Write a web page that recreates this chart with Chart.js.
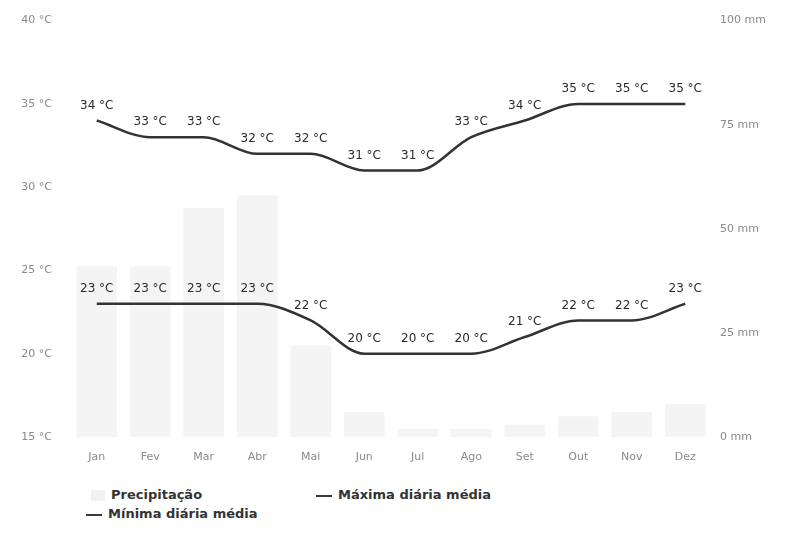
<!DOCTYPE html>
<html>
<head>
<meta charset="utf-8">
<script src="https://cdn.jsdelivr.net/npm/chart.js@4/dist/chart.umd.min.js"></script>
<style>
    body { margin: 0; background: #fff; font-family: 'DejaVu Sans', sans-serif; }
    #wrap { position: relative; width: 796px; height: 533px; overflow: hidden; }
    #box { position: absolute; left: 0; top: -4px; width: 796px; height: 482px; }
    .leg { position: absolute; font-size: 13px; font-weight: bold; color: #333; white-space: nowrap; }
    .leg .sym { display: inline-block; vertical-align: middle; margin-right: 6px; }
    .sq { width: 14px; height: 11px; background: rgba(0,0,0,0.05); }
    .ln { width: 16px; height: 2px; background: #3a3a3a; }
</style>
</head>
<body>
<div id="wrap">
    <div id="box"><canvas id="climateChart"></canvas></div>
    <div class="leg" style="left:91px; top:487px;"><span class="sym sq"></span>Precipitação</div>
    <div class="leg" style="left:316px; top:487px;"><span class="sym ln"></span>Máxima diária média</div>
    <div class="leg" style="left:86px; top:506px;"><span class="sym ln"></span>Mínima diária média</div>
</div>
<script>
const months = ['Jan', 'Fev', 'Mar', 'Abr', 'Mai', 'Jun', 'Jul', 'Ago', 'Set', 'Out', 'Nov', 'Dez'];
const precipitation = [41, 41, 55, 58, 22, 6, 2, 2, 3, 5, 6, 8];
const maxTemp = [34, 33, 33, 32, 32, 31, 31, 33, 34, 35, 35, 35];
const minTemp = [23, 23, 23, 23, 22, 20, 20, 20, 21, 22, 22, 23];
const tempTicks = [15, 20, 25, 30, 35, 40];
const rainTicks = [0, 25, 50, 75, 100];

//labels above line points
const pointLabels = {
    id: 'pointLabels',
    afterDatasetsDraw(chart) {
        const ctx = chart.ctx;
        ctx.save();
        ctx.font = '12px "DejaVu Sans"';
        ctx.fillStyle = '#2a2a2a';
        ctx.textAlign = 'center';
        ctx.textBaseline = 'bottom';
        chart.data.datasets.forEach((ds, i) => {
            if (ds.type !== 'line') return;
            chart.getDatasetMeta(i).data.forEach((pt, j) => {
                ctx.fillText(ds.data[j] + ' °C', pt.x, pt.y - 9);
            });
        });
        ctx.restore();
    }
};

const tickFont = { family: 'DejaVu Sans', size: 11 };

const ctx = document.getElementById('climateChart').getContext('2d');
new Chart(ctx, {
    data: {
        labels: months,
        datasets: [
            {
                type: 'bar',
                label: 'Precipitação',
                data: precipitation,
                yAxisID: 'yRain',
                backgroundColor: 'rgba(0, 0, 0, 0.045)',
                categoryPercentage: 0.8,
                barPercentage: 0.95,
                order: 2
            },
            {
                type: 'line',
                label: 'Máxima diária média',
                data: maxTemp,
                yAxisID: 'yTemp',
                borderColor: '#333',
                borderWidth: 2.5,
                pointRadius: 0,
                cubicInterpolationMode: 'monotone',
                order: 1
            },
            {
                type: 'line',
                label: 'Mínima diária média',
                data: minTemp,
                yAxisID: 'yTemp',
                borderColor: '#333',
                borderWidth: 2.5,
                pointRadius: 0,
                cubicInterpolationMode: 'monotone',
                order: 1
            }
        ]
    },
    options: {
        responsive: true,
        maintainAspectRatio: false,
        animation: false,
        layout: { padding: { top: 15 } },
        plugins: {
            legend: { display: false },
            tooltip: { enabled: false }
        },
        scales: {
            x: {
                grid: { display: false, drawTicks: false },
                border: { display: false },
                ticks: { color: '#8a8a8a', font: tickFont, padding: 14 },
                afterFit: s => { s.height = 41; }
            },
            yTemp: {
                position: 'left',
                min: tempTicks[0],
                max: tempTicks[tempTicks.length - 1],
                grid: { display: false, drawTicks: false },
                border: { display: false },
                afterBuildTicks: s => { s.ticks = tempTicks.map(v => ({ value: v })); },
                ticks: { color: '#8a8a8a', font: tickFont, padding: 18, callback: v => v + ' °C' },
                afterFit: s => { s.width = 70; }
            },
            yRain: {
                position: 'right',
                min: rainTicks[0],
                max: rainTicks[rainTicks.length - 1],
                grid: { display: false, drawTicks: false },
                border: { display: false },
                afterBuildTicks: s => { s.ticks = rainTicks.map(v => ({ value: v })); },
                ticks: { color: '#8a8a8a', font: tickFont, padding: 8, callback: v => v + ' mm' },
                afterFit: s => { s.width = 84; }
            }
        }
    },
    plugins: [pointLabels]
});
</script>
</body>
</html>
